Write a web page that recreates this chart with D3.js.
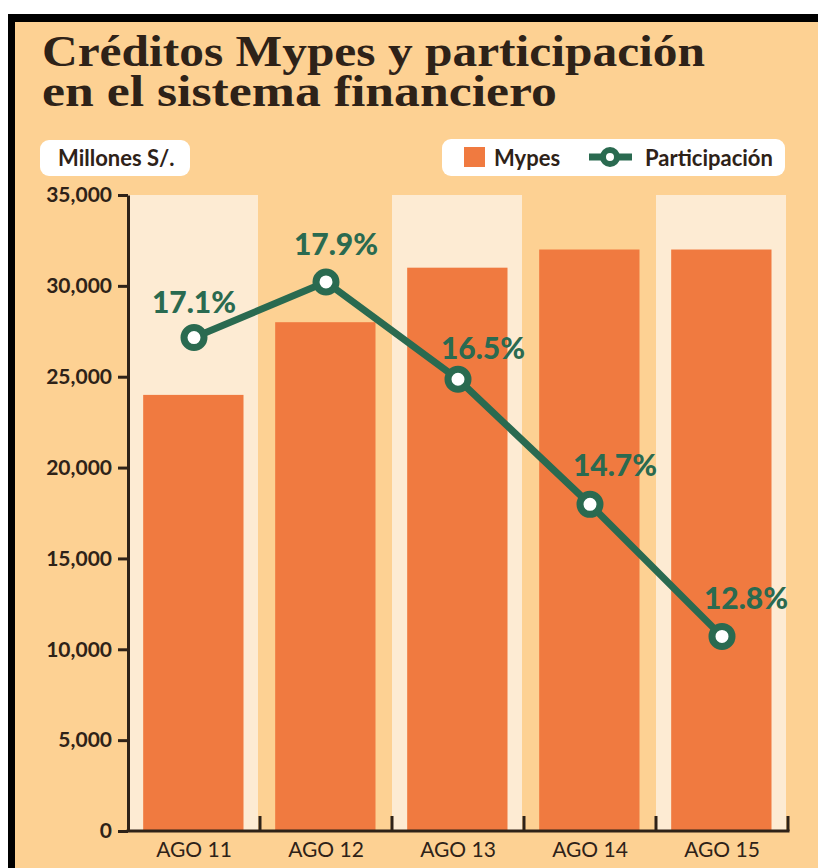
<script src="https://d3js.org/d3.v7.min.js" charset="utf-8"></script>

<style>
body { margin: 0; background: #fff; }
svg { display: block; }
.tick text { font-family: Lato, "Open Sans", sans-serif; fill: #2e2218; }
</style>
<svg class="chart"></svg>
<script>

var categories = ["AGO 11", "AGO 12", "AGO 13", "AGO 14", "AGO 15"];
var mypes = [24000, 28000, 31000, 32000, 32000];
var participacion = [17.1, 17.9, 16.5, 14.7, 12.8];
var yTicks = [0, 5000, 10000, 15000, 20000, 25000, 30000, 35000];

var width = 818,
    height = 868;

var peach = "#fdd193",
    cream = "#fdebd3",
    orange = "#f07a40",
    green = "#2a6a50",
    dark = "#2e2218";

var svg = d3.select(".chart")
  .attr("width", width)
  .attr("height", height);

// frame
svg.append("rect").attr("width", width).attr("height", height).attr("fill", "#fff");
svg.append("rect").attr("x", 8).attr("y", 14).attr("width", width - 8).attr("height", height - 14).attr("fill", "#000");
svg.append("rect").attr("x", 15).attr("y", 22).attr("width", width - 15).attr("height", height - 22).attr("fill", peach);

// title
var title = ["Créditos Mypes y participación", "en el sistema financiero"];
var titleW = [663, 515];
svg.selectAll(".title").data(title).enter()
  .append("text")
  .attr("class", "title")
  .attr("x", 42)
  .attr("y", function(d, i) { return 66 + i * 40; })
  .attr("textLength", function(d, i) { return titleW[i]; })
  .attr("lengthAdjust", "spacingAndGlyphs")
  .style("font-family", "'Liberation Serif', 'DejaVu Serif', serif")
  .style("font-weight", "bold")
  .style("font-size", "44px")
  .style("fill", dark)
  .text(function(d) { return d; });

// scales
var x = d3.scaleBand().domain(categories).range([128, 788]);
var y = d3.scaleLinear().domain([0, 35000]).range([831, 195]);
var yP = d3.scaleLinear().domain([10, 20]).range([831, 136]);
var bw = x.bandwidth();

// cream columns
svg.selectAll(".col").data(categories.filter(function(d, i) { return i % 2 == 0; })).enter()
  .append("rect")
  .attr("class", "col")
  .attr("x", function(d) { return x(d); })
  .attr("y", y(35000))
  .attr("width", bw - 2)
  .attr("height", y(0) - y(35000))
  .attr("fill", cream);

// bars
svg.selectAll(".bar").data(mypes).enter()
  .append("rect")
  .attr("class", "bar")
  .attr("x", function(d, i) { return x(categories[i]) + bw * 0.115; })
  .attr("y", function(d) { return y(d); })
  .attr("width", bw * 0.76)
  .attr("height", function(d) { return y(0) - y(d); })
  .attr("fill", orange);

// y axis
var yAxis = svg.append("g")
  .attr("transform", "translate(128,0)")
  .call(d3.axisLeft(y).tickValues(yTicks).tickSize(10).tickSizeOuter(0).tickPadding(6).tickFormat(d3.format(",")));
yAxis.select(".domain").attr("stroke", dark).attr("stroke-width", 3);
yAxis.selectAll(".tick line").attr("stroke", dark).attr("stroke-width", 3);
yAxis.selectAll(".tick text").style("font-size", "21px").style("font-weight", "bold");

// x axis
var xAxis = svg.append("g")
  .attr("transform", "translate(0,831)")
  .call(d3.axisBottom(x).tickSize(0).tickPadding(11));
xAxis.select(".domain").remove();
xAxis.selectAll(".tick text").style("font-size", "21px");

svg.append("line")
  .attr("x1", 126.5).attr("x2", x(categories[4]) + bw + 1.5)
  .attr("y1", 831).attr("y2", 831)
  .attr("stroke", dark).attr("stroke-width", 3);
svg.selectAll(".xtick").data(categories).enter()
  .append("line")
  .attr("class", "xtick")
  .attr("x1", function(d) { return x(d) + bw; })
  .attr("x2", function(d) { return x(d) + bw; })
  .attr("y1", 816).attr("y2", 831)
  .attr("stroke", dark).attr("stroke-width", 3);

// participation line
var pts = participacion.map(function(p, i) { return {x: x(categories[i]) + bw / 2, y: yP(p), v: p}; });
svg.append("path")
  .datum(pts)
  .attr("d", d3.line().x(function(d) { return d.x; }).y(function(d) { return d.y; }))
  .attr("fill", "none")
  .attr("stroke", green)
  .attr("stroke-width", 7);
svg.selectAll(".dot").data(pts).enter()
  .append("circle")
  .attr("class", "dot")
  .attr("cx", function(d) { return d.x; })
  .attr("cy", function(d) { return d.y; })
  .attr("r", 10)
  .attr("fill", "#fff")
  .attr("stroke", green)
  .attr("stroke-width", 7);

var labelDx = [0, 10, 25, 25, 24];
var labelDy = [-25, -27, -20, -28, -27];
svg.selectAll(".plabel").data(pts).enter()
  .append("text")
  .attr("class", "plabel")
  .attr("x", function(d, i) { return d.x + labelDx[i]; })
  .attr("y", function(d, i) { return d.y + labelDy[i]; })
  .attr("text-anchor", "middle")
  .style("font-family", "Lato, 'Open Sans', sans-serif")
  .style("font-weight", "900")
  .style("font-size", "30px")
  .style("fill", green)
  .text(function(d) { return d.v.toFixed(1) + "%"; });

// unit label
svg.append("rect").attr("x", 40).attr("y", 140).attr("width", 150).attr("height", 36).attr("rx", 9).attr("fill", "#fff");
svg.append("text").attr("x", 58).attr("y", 166)
  .style("font-family", "Lato, 'Open Sans', sans-serif").style("font-weight", "bold").style("font-size", "22px")
  .style("fill", dark).text("Millones S/.");

// legend
var lg = svg.append("g");
lg.append("rect").attr("x", 442).attr("y", 139).attr("width", 343).attr("height", 37).attr("rx", 9).attr("fill", "#fff");
lg.append("rect").attr("x", 464).attr("y", 147).attr("width", 21).attr("height", 20).attr("fill", orange);
lg.append("text").attr("x", 494).attr("y", 166)
  .style("font-family", "Lato, 'Open Sans', sans-serif").style("font-weight", "bold").style("font-size", "22px")
  .style("fill", dark).text("Mypes");
lg.append("line").attr("x1", 589).attr("x2", 632).attr("y1", 157).attr("y2", 157)
  .attr("stroke", green).attr("stroke-width", 7);
lg.append("circle").attr("cx", 610).attr("cy", 157).attr("r", 7)
  .attr("fill", "#fff").attr("stroke", green).attr("stroke-width", 6);
lg.append("text").attr("x", 645).attr("y", 166)
  .style("font-family", "Lato, 'Open Sans', sans-serif").style("font-weight", "bold").style("font-size", "22px")
  .style("fill", dark).text("Participación");

</script>
